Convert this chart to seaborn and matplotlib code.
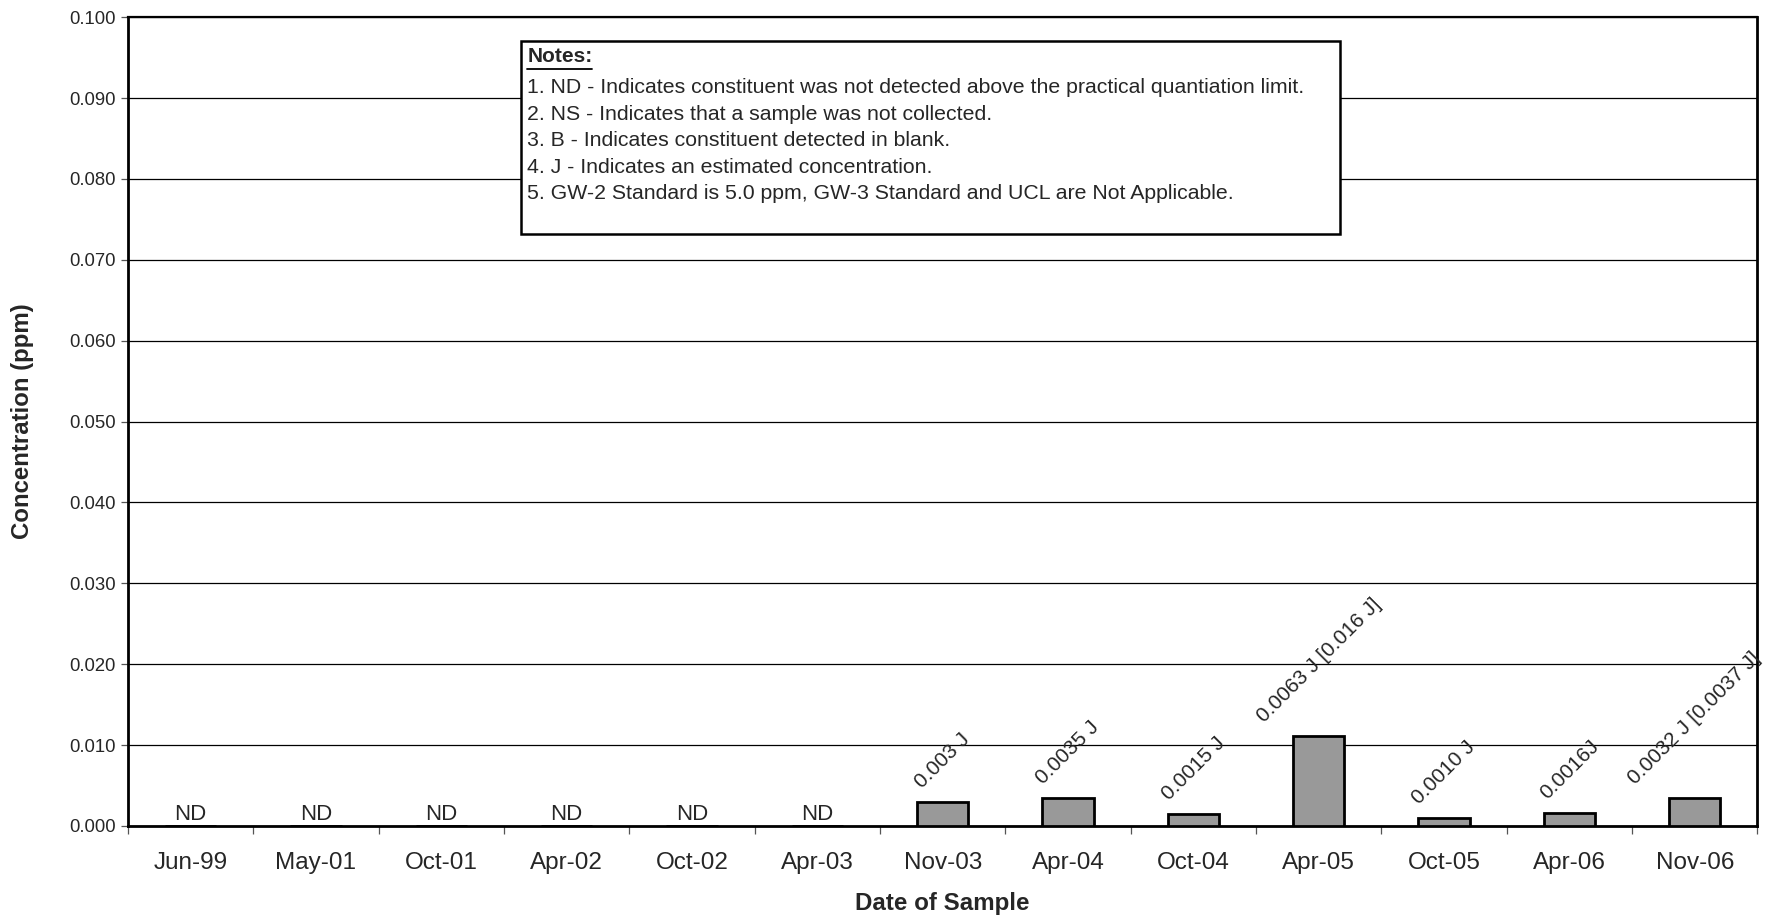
import pandas as pd
import numpy as np
import matplotlib
matplotlib.use("Agg")
import matplotlib.pyplot as plt
import seaborn as sns
from matplotlib.ticker import FixedLocator

# Data
dates = ['Jun-99', 'May-01', 'Oct-01', 'Apr-02', 'Oct-02', 'Apr-03', 'Nov-03',
         'Apr-04', 'Oct-04', 'Apr-05', 'Oct-05', 'Apr-06', 'Nov-06']
conc = [0.0, 0.0, 0.0, 0.0, 0.0, 0.0, 0.003,
        0.0035, 0.0015, 0.01115, 0.0010, 0.0016, 0.00345]
bar_labels = ['ND', 'ND', 'ND', 'ND', 'ND', 'ND', '0.003 J',
              '0.0035 J', '0.0015 J', '0.0063 J [0.016 J]', '0.0010 J', '0.0016J', '0.0032 J [0.0037 J]']
notes = ['1. ND - Indicates constituent was not detected above the practical quantiation limit.',
         '2. NS - Indicates that a sample was not collected.',
         '3. B - Indicates constituent detected in blank.',
         '4. J - Indicates an estimated concentration.',
         '5. GW-2 Standard is 5.0 ppm, GW-3 Standard and UCL are Not Applicable.']

df = pd.DataFrame({'date': dates, 'conc': conc, 'label': bar_labels})

sns.set_style('white')
plt.rcParams['font.family'] = ['Liberation Sans', 'DejaVu Sans']

fig = plt.figure(figsize=(17.75, 9.16), dpi=100)
ax = fig.add_axes([0.0721, 0.0983, 0.918, 0.883])

sns.barplot(data=df, x='date', y='conc', color='#999999', width=0.41,
            edgecolor='black', linewidth=2, saturation=1, ax=ax, zorder=3)

# y axis + grid lines
ax.set_ylim(0, 0.1)
ax.set_xlim(-0.5, len(dates) - 0.5)
yt = np.arange(0, 0.1001, 0.01)
ax.set_yticks(yt)
ax.set_yticklabels(['{:.3f}'.format(v) for v in yt], fontsize=13.3)
ax.grid(axis='y', color='black', lw=0.9, zorder=0)
ax.set_axisbelow(True)

# x ticks between categories, labels at centers
ax.xaxis.set_major_locator(FixedLocator(np.arange(-0.5, len(dates), 1.0)))
ax.xaxis.set_minor_locator(FixedLocator(np.arange(0, len(dates))))
ax.set_xticklabels([''] * (len(dates) + 1))
ax.set_xticklabels(dates, minor=True, fontsize=17.5)
ax.tick_params(axis='x', which='major', direction='out', length=6, width=0.9, color='#555555', bottom=True)
ax.tick_params(axis='x', which='minor', length=0, pad=19)
ax.tick_params(axis='y', direction='out', length=5, width=0.9, color='#555555', left=True, pad=4)

for side in ['left', 'bottom', 'right']:
    ax.spines[side].set_linewidth(2)
    ax.spines[side].set_color('black')
ax.spines['top'].set_linewidth(1.6)
ax.spines['top'].set_color('black')

# bar labels
for i, row in df.iterrows():
    if row['label'] == 'ND':
        ax.annotate('ND', (i, 0), xytext=(0, 0.5), textcoords='offset points',
                    ha='center', va='bottom', fontsize=16)
    else:
        ax.annotate(row['label'], (i, row['conc']), xytext=(0, 7), textcoords='offset points',
                    ha='center', va='bottom', rotation=45, fontsize=15,
                    annotation_clip=False)

ax.set_xlabel('Date of Sample', fontsize=17.4, fontweight='bold', labelpad=13)
ax.set_ylabel('Concentration (ppm)', fontsize=17.3, fontweight='bold', labelpad=25)

# notes box
box = plt.Rectangle((0.241, 0.732), 0.503, 0.238, transform=ax.transAxes,
                    facecolor='white', edgecolor='black', lw=1.8, zorder=5)
ax.add_patch(box)
title = ax.text(0.245, 0.951, 'Notes:', transform=ax.transAxes, fontsize=15,
                fontweight='bold', va='center', ha='left', zorder=6)
for k, line in enumerate(notes):
    ax.text(0.245, 0.913 - k * 0.0329, line, transform=ax.transAxes, fontsize=15.3,
            va='center', ha='left', zorder=6)

# underline the "Notes:" heading
fig.canvas.draw()
bb = title.get_window_extent().transformed(ax.transAxes.inverted())
ax.plot([bb.x0, bb.x1], [0.936, 0.936], transform=ax.transAxes, color='black', lw=1.3, zorder=6)

fig.savefig('out.png', dpi=100)
